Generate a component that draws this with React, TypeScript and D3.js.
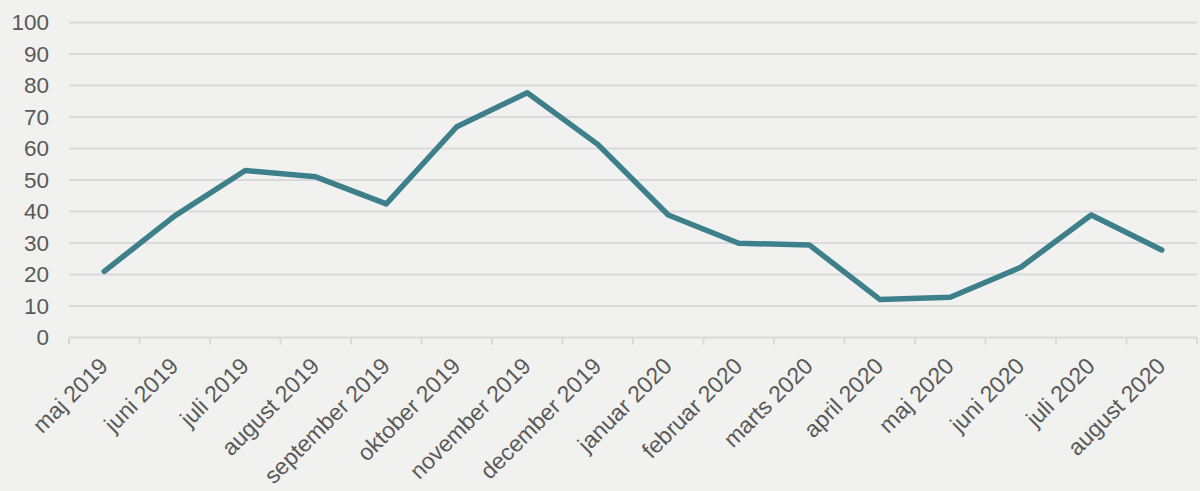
import React, { useEffect, useRef } from "react";
import * as d3 from "d3";

const months = [
  "maj 2019",
  "juni 2019",
  "juli 2019",
  "august 2019",
  "september 2019",
  "oktober 2019",
  "november 2019",
  "december 2019",
  "januar 2020",
  "februar 2020",
  "marts 2020",
  "april 2020",
  "maj 2020",
  "juni 2020",
  "juli 2020",
  "august 2020",
];

const values = [21, 38.6, 53, 51, 42.4, 66.9, 77.7, 61.3, 38.9, 29.9, 29.4, 12.1, 12.8, 22.3, 38.9, 27.8];

const yTicks = [0, 10, 20, 30, 40, 50, 60, 70, 80, 90, 100];

const LineChart = () => {
  const svgRef = useRef<SVGSVGElement>(null);

  useEffect(() => {
    const svg = d3.select(svgRef.current);
    svg.selectAll("*").remove();

    const width = 1200;
    const height = 491;
    const margin = { top: 22.5, right: 3, bottom: 153.5, left: 69 };
    const innerW = width - margin.left - margin.right;
    const innerH = height - margin.top - margin.bottom;

    svg.attr("width", width).attr("height", height);

    // Background
    svg.append("rect").attr("width", width).attr("height", height).attr("fill", "#f1f1f0");

    const g = svg.append("g").attr("transform", `translate(${margin.left},${margin.top})`);

    const x = d3.scaleBand().domain(months).range([0, innerW]).padding(0);
    const y = d3.scaleLinear().domain([0, 100]).range([innerH, 0]);

    // Gridlines
    g.append("g")
      .selectAll("line")
      .data(yTicks.filter((t) => t > 0))
      .enter()
      .append("line")
      .attr("x1", 0)
      .attr("x2", innerW)
      .attr("y1", (d) => y(d))
      .attr("y2", (d) => y(d))
      .attr("stroke", "#d9d9d9")
      .attr("stroke-width", 2);

    // Y axis labels
    g.append("g")
      .selectAll("text")
      .data(yTicks)
      .enter()
      .append("text")
      .attr("x", -20)
      .attr("y", (d) => y(d))
      .attr("dy", "0.35em")
      .attr("text-anchor", "end")
      .style("font-family", "'Liberation Sans', Arial, sans-serif")
      .style("font-size", "22.5px")
      .style("fill", "#595959")
      .text((d) => d);

    // X axis line and ticks
    g.append("line")
      .attr("x1", 0)
      .attr("x2", innerW)
      .attr("y1", innerH)
      .attr("y2", innerH)
      .attr("stroke", "#d9d9d9")
      .attr("stroke-width", 2);

    const tickPos = months.map((m) => x(m) as number).concat([innerW]);
    g.append("g")
      .selectAll("line")
      .data(tickPos)
      .enter()
      .append("line")
      .attr("x1", (d) => d)
      .attr("x2", (d) => d)
      .attr("y1", innerH)
      .attr("y2", innerH + 7)
      .attr("stroke", "#d9d9d9")
      .attr("stroke-width", 2);

    // X labels
    g.append("g")
      .selectAll("text")
      .data(months)
      .enter()
      .append("text")
      .attr(
        "transform",
        (d) => `translate(${(x(d) as number) + x.bandwidth() / 2 + 5},${innerH + 30}) rotate(-45)`
      )
      .attr("text-anchor", "end")
      .style("font-family", "'Liberation Sans', Arial, sans-serif")
      .style("font-size", "23px")
      .style("fill", "#595959")
      .text((d) => d);

    // Line
    const line = d3
      .line<number>()
      .x((d, i) => (x(months[i]) as number) + x.bandwidth() / 2)
      .y((d) => y(d));

    g.append("path")
      .datum(values)
      .attr("d", line)
      .attr("fill", "none")
      .attr("stroke", "#3d7f8a")
      .attr("stroke-width", 5.5)
      .attr("stroke-linejoin", "round")
      .attr("stroke-linecap", "round");
  }, []);

  return <svg ref={svgRef} style={{ position: "absolute", left: 0, top: 0, display: "block" }}></svg>;
};

export default function App() {
  return <LineChart />;
}
